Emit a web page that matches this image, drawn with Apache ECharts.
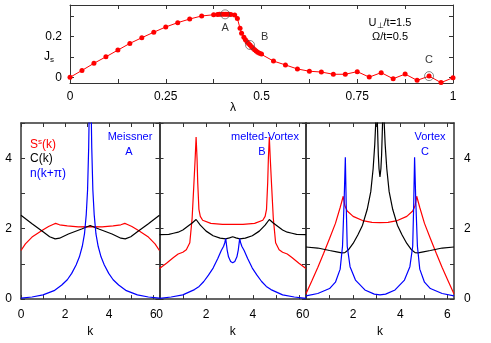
<!DOCTYPE html>
<html><head><meta charset="utf-8">
<script src="https://cdn.jsdelivr.net/npm/echarts@6/dist/echarts.min.js"></script>
<style>html,body{margin:0;padding:0;background:#fff}#c{width:491px;height:343px}</style>
</head><body><div id="c"></div>
<script>
// ---- top panel: J_s vs lambda ----
const lambda = [0,0.03125,0.0625,0.09375,0.125,0.15625,0.1875,0.21875,0.25,0.28125,
  0.3125,0.34375,0.375,0.385,0.39,0.395,0.40,0.405,0.41,0.415,
  0.42,0.43,0.437,0.444,0.448,0.454,0.458,0.462,0.466,0.47,
  0.474,0.478,0.482,0.486,0.49,0.495,0.5,0.53125,0.5625,0.59375,
  0.625,0.65625,0.6875,0.71875,0.75,0.78125,0.8125,0.84375,0.875,0.90625,
  0.9375,0.96875,1.0];
const Js = [0,0.034,0.069,0.101,0.134,0.167,0.195,0.222,0.248,0.269,
  0.287,0.302,0.308,0.309,0.31,0.31,0.31,0.31,0.31,0.31,
  0.309,0.307,0.29,0.241,0.217,0.197,0.185,0.175,0.166,0.159,
  0.151,0.143,0.136,0.129,0.123,0.118,0.115,0.08,0.061,0.041,
  0.03,0.026,0.015,0.015,0.028,0.001,0.023,-0.007,0.016,-0.015,
  0.006,-0.026,-0.002];
const markLambda = [0.405, 0.47, 0.9375];
const markJs = [0.31, 0.159, 0.006];
const markNames = ['A','B','C'];
const topXTicks = [0,0.125,0.25,0.375,0.5,0.625,0.75,0.875,1];
const topXLabels = [0,0.25,0.5,0.75,1];
const topYTicks = [0,0.1,0.2,0.3];
const topYLabels = [0,0.2];

// ---- bottom panels ----
const kTicks = [0,1,2,3,4,5,6];
const kLabels = [0,2,4,6];
const vTicks = [0,1,2,3,4,5];
const vLabels = [0,2,4];

// Panel A (Meissner)
const kA_S = [0,0.2,0.5,0.95,1.25,1.45,1.57,1.75,2.1,2.6,3.14,3.68,4.18,4.53,4.71,4.83,5.03,5.33,5.78,6.08,6.28];
const vA_S = [1.38,1.57,1.76,1.95,2.06,2.12,2.15,2.11,2.08,2.05,2.06,2.05,2.08,2.11,2.15,2.12,2.06,1.95,1.76,1.57,1.38];
const kA_C = [0,0.5,1.0,1.3,1.55,1.75,2.15,2.75,3.14,3.53,4.13,4.53,4.73,4.98,5.28,5.78,6.28];
const vA_C = [2.38,2.14,1.91,1.77,1.71,1.73,1.85,1.99,2.09,1.99,1.85,1.73,1.71,1.77,1.91,2.14,2.38];
const kA_N = [0,0.5,1.0,1.5,1.85,2.1,2.3,2.5,2.65,2.78,2.88,2.96,3.02,3.07,3.1,3.14,3.18,3.21,3.26,3.32,3.40,3.50,3.63,3.78,3.98,4.18,4.43,4.78,5.28,5.78,6.28];
const vA_N = [0.03,0.06,0.12,0.24,0.40,0.55,0.73,0.97,1.2,1.5,1.85,2.4,3.1,4.3,5.5,8,5.5,4.3,3.1,2.4,1.85,1.5,1.2,0.97,0.73,0.55,0.40,0.24,0.12,0.06,0.03];

// Panel B (melted-Vortex)
const kB_S = [0,0.3,0.6,0.8,1.0,1.15,1.3,1.4,1.47,1.53,1.57,1.61,1.64,1.69,1.75,1.85,2.2,2.7,3.14,3.58,4.08,4.43,4.53,4.59,4.64,4.67,4.71,4.75,4.81,4.88,4.98,5.13,5.28,5.48,5.68,5.98,6.28];
const vB_S = [0.87,1.02,1.18,1.28,1.33,1.4,1.6,2.3,3.2,4.0,4.6,4.0,3.3,2.55,2.35,2.24,2.15,2.12,2.12,2.12,2.15,2.24,2.35,2.55,3.3,4.0,4.6,4.0,3.2,2.3,1.6,1.4,1.33,1.28,1.18,1.02,0.87];
const kB_C = [0,0.4,0.6,0.8,1.0,1.2,1.4,1.57,1.75,2.0,2.3,2.6,2.84,3.0,3.14,3.28,3.44,3.68,3.98,4.28,4.53,4.71,4.88,5.08,5.28,5.48,5.68,5.88,6.28];
const vB_C = [1.83,1.84,1.87,1.9,1.96,2.06,2.16,2.26,2.1,1.93,1.8,1.73,1.71,1.74,1.77,1.74,1.71,1.73,1.8,1.93,2.1,2.26,2.16,2.06,1.96,1.9,1.87,1.84,1.83];
const kB_N = [0,0.5,1.0,1.5,1.7,1.9,2.1,2.3,2.5,2.65,2.75,2.8,2.84,2.9,2.96,3.05,3.14,3.23,3.32,3.38,3.44,3.48,3.53,3.63,3.78,3.98,4.18,4.38,4.58,4.78,5.28,5.78,6.28];
const vB_N = [0.02,0.06,0.12,0.27,0.36,0.5,0.68,0.88,1.15,1.38,1.5,1.6,1.72,1.4,1.2,1.07,1.03,1.07,1.2,1.4,1.72,1.6,1.5,1.38,1.15,0.88,0.68,0.5,0.36,0.27,0.12,0.06,0.02];

// Panel C (Vortex)
const kC_S = [0,0.25,0.5,0.75,1.0,1.25,1.45,1.58,1.65,1.75,2.0,2.4,2.8,3.14,3.48,3.88,4.28,4.53,4.63,4.70,4.83,5.03,5.28,5.53,5.78,6.03,6.28];
const vC_S = [0.15,0.52,0.9,1.3,1.72,2.15,2.6,2.92,2.65,2.5,2.35,2.23,2.18,2.17,2.18,2.23,2.35,2.5,2.65,2.92,2.6,2.15,1.72,1.3,0.9,0.52,0.15];
const kC_C = [0,0.5,1.0,1.3,1.52,1.65,1.8,2.0,2.2,2.4,2.6,2.75,2.85,2.92,2.96,2.99,3.03,3.07,3.1,3.14,3.18,3.21,3.25,3.29,3.32,3.36,3.43,3.53,3.68,3.88,4.08,4.28,4.48,4.63,4.76,4.98,5.28,5.78,6.28];
const vC_C = [1.48,1.45,1.38,1.34,1.31,1.32,1.4,1.58,1.82,2.1,2.55,3.05,3.7,4.4,5.0,5.8,5.0,4.1,3.7,3.47,3.7,4.1,5.0,5.8,5.0,4.4,3.7,3.05,2.55,2.1,1.82,1.58,1.4,1.32,1.31,1.34,1.38,1.45,1.48];
const kC_N = [0,0.5,1.0,1.25,1.45,1.55,1.62,1.67,1.71,1.75,1.87,2.1,2.5,2.9,3.14,3.38,3.78,4.18,4.41,4.53,4.57,4.61,4.66,4.73,4.83,5.03,5.28,5.78,6.28];
const vC_N = [0.09,0.16,0.3,0.48,0.85,1.5,2.8,4.03,2.6,1.5,0.92,0.54,0.26,0.14,0.12,0.14,0.26,0.54,0.92,1.5,2.6,4.03,2.8,1.5,0.85,0.48,0.3,0.16,0.09];

const zip = (a, b) => a.map((x, i) => [x, b[i]]);
const FONT = 'Liberation Sans, Arial, Helvetica, sans-serif';
const RED = '#ff0000', BLUE = '#0000ff', BLACK = '#000000';
const TWO_PI = 6.2832;

function axis(kind, gridIndex, position, min, max, ticks, labels, showLabels, lineW, extra) {
  return Object.assign({
    type: 'value', gridIndex, position, min, max,
    axisLine: { show: true, onZero: false, lineStyle: { color: '#333', width: lineW } },
    axisTick: { show: true, inside: true, length: 4, customValues: ticks, lineStyle: { color: '#333', width: 1 } },
    axisLabel: { show: showLabels, customValues: labels, color: '#000', fontFamily: FONT, fontSize: 12, margin: kind === 'x' ? 8 : 8 },
    splitLine: { show: false }
  }, extra || {});
}

const grids = [
  { left: 70, top: 5, width: 383, height: 78 },
  { left: 21, top: 123, width: 138.5, height: 178 },
  { left: 159.5, top: 123, width: 146.5, height: 178 },
  { left: 306, top: 123, width: 148, height: 178 }
];

const xAxes = [
  axis('x', 0, 'bottom', 0, 1, topXTicks, topXLabels, true, 1),
  axis('x', 0, 'top', 0, 1, topXTicks, topXLabels, false, 1),
];
const yAxes = [
  axis('y', 0, 'left', -0.028, 0.356, topYTicks, topYLabels, true, 1),
  axis('y', 0, 'right', -0.028, 0.356, topYTicks, topYLabels, false, 1),
];
for (let g = 1; g <= 3; g++) {
  const xb = axis('x', g, 'bottom', 0, TWO_PI, kTicks, kLabels, true, 1.5,
    { name: 'k', nameLocation: 'middle', nameGap: 24, nameTextStyle: { fontFamily: FONT, fontSize: 12, color: '#000' } });
  xb.axisLabel.margin = 10;
  xAxes.push(xb);
  xAxes.push(axis('x', g, 'top', 0, TWO_PI, kTicks, kLabels, false, 1.5));
  const yl = axis('y', g, 'left', 0, 5, vTicks, vLabels, g === 1, 1.5);
  const yr = axis('y', g, 'right', 0, 5, vTicks, vLabels, g === 3, 1.5);
  yl.axisLabel.margin = 9; yr.axisLabel.margin = 10;
  yAxes.push(yl); yAxes.push(yr);
}

function curve(g, k, v, color) {
  const idx = g === 0 ? 0 : 2 * g;
  return { type: 'line', xAxisIndex: idx, yAxisIndex: idx, data: zip(k, v), symbol: 'none',
    lineStyle: { color, width: 1.2 }, clip: true, silent: true, z: 3 };
}

const series = [
  { type: 'line', xAxisIndex: 0, yAxisIndex: 0, data: zip(lambda, Js),
    symbol: 'circle', symbolSize: 5, showSymbol: true,
    itemStyle: { color: RED }, lineStyle: { color: RED, width: 1 }, z: 3 },
  { type: 'scatter', xAxisIndex: 0, yAxisIndex: 0,
    data: markLambda.map((l, i) => ({ value: [l, markJs[i]], name: markNames[i],
      label: { show: true, formatter: markNames[i], color: '#000', fontFamily: FONT, fontSize: 11,
        position: i === 0 ? 'bottom' : (i === 1 ? 'right' : 'top'),
        distance: i === 0 ? 3 : (i === 1 ? 6 : 6),
        offset: i === 1 ? [0, -8] : [0, 0] } })),
    symbol: 'circle', symbolSize: 9,
    itemStyle: { color: 'rgba(0,0,0,0)', borderColor: '#444', borderWidth: 0.8 }, z: 5 },
  curve(1, kA_S, vA_S, RED), curve(1, kA_C, vA_C, BLACK), curve(1, kA_N, vA_N, BLUE),
  curve(2, kB_S, vB_S, RED), curve(2, kB_C, vB_C, BLACK), curve(2, kB_N, vB_N, BLUE),
  curve(3, kC_S, vC_S, RED), curve(3, kC_C, vC_C, BLACK), curve(3, kC_N, vC_N, BLUE)
];

function txt(x, y, text, fill, size, align, rich) {
  const s = { text, fill, font: size + 'px ' + FONT, textAlign: align || 'center', textVerticalAlign: 'middle' };
  if (rich) s.rich = rich;
  return { type: 'text', x, y, style: s, z: 10 };
}

const graphic = [
  txt(233, 108, 'λ', '#000', 12),
  txt(49, 57, '{a|J}{b|s}', '#000', 12, 'center', { a: { fontSize: 12, fontFamily: FONT, fill: '#000' }, b: { fontSize: 8, fontFamily: FONT, fill: '#000', padding: [6, 0, 0, 0] } }),
  txt(390, 23, '{a|U}{b|⊥}{a|/t=1.5}', '#000', 11, 'center', { a: { fontSize: 11, fontFamily: FONT, fill: '#000' }, b: { fontSize: 8, fontFamily: FONT, fill: '#000', padding: [5, 0, 0, 0] } }),
  txt(390, 37, 'Ω/t=0.5', '#000', 11),
  txt(30, 145, '{a|S}{b|s}{a|(k)}', RED, 12, 'left', { a: { fontSize: 12, fontFamily: FONT, fill: RED }, b: { fontSize: 8, fontFamily: FONT, fill: RED, padding: [0, 0, 7, 0] } }),
  txt(30, 159, 'C(k)', BLACK, 12, 'left'),
  txt(30, 174, 'n(k+π)', BLUE, 12, 'left'),
  txt(130, 137, 'Meissner', BLUE, 11),
  txt(129, 152, 'A', BLUE, 11),
  txt(265, 137, 'melted-Vortex', BLUE, 11),
  txt(262, 152, 'B', BLUE, 11),
  txt(430, 137, 'Vortex', BLUE, 11),
  txt(425, 152, 'C', BLUE, 11)
];

const chart = echarts.init(document.getElementById('c'), null, { renderer: 'canvas' });
chart.setOption({ animation: false, backgroundColor: '#fff', grid: grids, xAxis: xAxes, yAxis: yAxes, series, graphic });
</script></body></html>
